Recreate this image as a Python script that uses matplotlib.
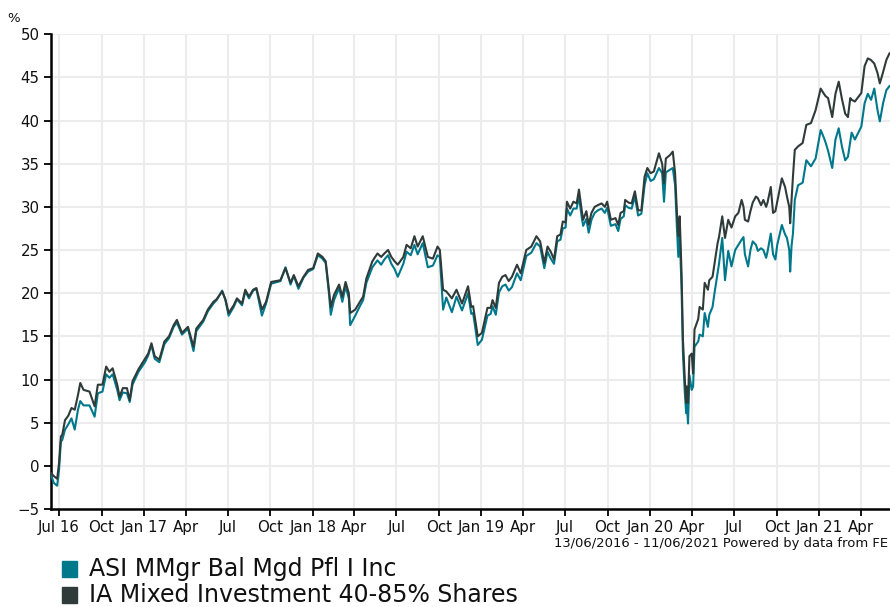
import matplotlib
matplotlib.use("Agg")
import matplotlib.pyplot as plt
import matplotlib.dates as mdates
import pandas as pd

dates = [
    "2016-06-13","2016-06-20","2016-06-27","2016-07-01","2016-07-05","2016-07-08","2016-07-14","2016-07-21",
    "2016-07-28","2016-08-04","2016-08-11","2016-08-16","2016-08-23","2016-09-05","2016-09-16","2016-09-23",
    "2016-10-03","2016-10-11","2016-10-18","2016-10-25","2016-11-04","2016-11-09","2016-11-16","2016-11-25",
    "2016-12-01","2016-12-07","2016-12-20","2017-01-03","2017-01-10","2017-01-17","2017-01-24","2017-02-03",
    "2017-02-14","2017-02-24","2017-03-06","2017-03-13","2017-03-24","2017-04-06","2017-04-18","2017-04-24",
    "2017-05-09","2017-05-19","2017-05-31","2017-06-07","2017-06-19","2017-06-26","2017-07-03","2017-07-14",
    "2017-07-21","2017-08-01","2017-08-08","2017-08-16","2017-08-25","2017-09-01","2017-09-13","2017-09-22",
    "2017-10-03","2017-10-23","2017-11-03","2017-11-14","2017-11-21","2017-12-01","2017-12-12","2017-12-22",
    "2018-01-02","2018-01-12","2018-01-22","2018-01-29","2018-02-05","2018-02-09","2018-02-16","2018-02-27",
    "2018-03-06","2018-03-13","2018-03-20","2018-03-23","2018-04-03","2018-04-13","2018-04-20","2018-04-27",
    "2018-05-10","2018-05-21","2018-05-29","2018-06-05","2018-06-13","2018-06-20","2018-06-27","2018-07-04",
    "2018-07-16","2018-07-23","2018-08-01","2018-08-09","2018-08-16","2018-08-27","2018-09-07","2018-09-18",
    "2018-09-28","2018-10-03","2018-10-10","2018-10-17","2018-10-29","2018-11-08","2018-11-20","2018-12-03",
    "2018-12-10","2018-12-14","2018-12-24","2019-01-02","2019-01-14","2019-01-21","2019-01-25","2019-02-01",
    "2019-02-08","2019-02-15","2019-02-22","2019-03-01","2019-03-08","2019-03-19","2019-03-27","2019-04-08",
    "2019-04-19","2019-04-30","2019-05-08","2019-05-17","2019-05-24","2019-05-31","2019-06-07","2019-06-14",
    "2019-06-21","2019-06-26","2019-07-02","2019-07-05","2019-07-12","2019-07-19","2019-07-26","2019-07-31",
    "2019-08-06","2019-08-09","2019-08-16","2019-08-21","2019-08-27","2019-09-03","2019-09-10","2019-09-18",
    "2019-09-25","2019-09-30","2019-10-08","2019-10-18","2019-10-24","2019-10-29","2019-11-05","2019-11-08",
    "2019-11-15","2019-11-22","2019-11-29","2019-12-06","2019-12-13","2019-12-20","2019-12-26","2020-01-02",
    "2020-01-09","2020-01-20","2020-01-27","2020-01-31","2020-02-04","2020-02-13","2020-02-19","2020-02-24",
    "2020-02-28","2020-03-02","2020-03-05","2020-03-09","2020-03-12","2020-03-16","2020-03-19","2020-03-20",
    "2020-03-23","2020-03-26","2020-03-31","2020-04-03","2020-04-06","2020-04-14","2020-04-17","2020-04-24",
    "2020-04-28","2020-05-05","2020-05-08","2020-05-15","2020-05-19","2020-05-26","2020-05-29","2020-06-05",
    "2020-06-11","2020-06-18","2020-06-25","2020-07-03","2020-07-10","2020-07-17","2020-07-21","2020-07-24",
    "2020-07-31","2020-08-05","2020-08-10","2020-08-17","2020-08-21","2020-08-28","2020-09-02","2020-09-08",
    "2020-09-11","2020-09-18","2020-09-23","2020-09-28","2020-10-02","2020-10-12","2020-10-19","2020-10-23",
    "2020-10-28","2020-10-30","2020-11-02","2020-11-05","2020-11-09","2020-11-16","2020-11-26","2020-12-04",
    "2020-12-14","2020-12-24","2021-01-04","2021-01-11","2021-01-15","2021-01-20","2021-01-29","2021-02-05",
    "2021-02-12","2021-02-19","2021-02-26","2021-03-04","2021-03-09","2021-03-12","2021-03-19","2021-04-02",
    "2021-04-09","2021-04-16","2021-04-23","2021-04-30","2021-05-07","2021-05-12","2021-05-19","2021-05-26",
    "2021-06-02","2021-06-11",
]

ia_mixed = [
    -0.8,-1.2,-1.5,0.3,3.4,3.6,5.3,5.8,
    6.7,6.5,8.2,9.6,8.8,8.6,6.9,9.4,
    9.4,11.5,10.9,11.3,9.4,8.0,9.0,9.0,
    7.6,9.8,11.2,12.4,13.0,14.2,12.7,12.3,
    14.4,15.0,16.3,16.9,15.4,16.1,13.8,15.9,
    16.9,18.1,19.0,19.3,20.2,19.3,17.7,18.6,
    19.4,18.8,20.4,19.6,20.4,20.6,18.1,19.0,
    21.3,21.5,22.9,21.2,22.1,20.8,21.9,22.7,
    22.9,24.6,24.2,23.7,20.4,18.4,19.8,21.0,
    19.6,21.3,20.0,17.7,18.1,19.0,19.6,21.7,
    23.7,24.6,24.2,24.6,25.0,24.2,23.7,23.3,
    24.2,25.6,25.2,26.6,25.4,26.6,24.2,24.0,
    25.4,25.0,20.4,20.2,19.4,20.4,18.8,20.8,
    18.4,18.5,15.0,15.4,18.3,18.3,19.2,18.3,
    21.2,21.9,22.1,21.4,21.9,23.3,22.3,25.0,
    25.4,26.6,26.0,23.5,25.4,24.8,23.9,26.6,
    26.8,28.3,28.2,30.6,29.8,30.6,30.4,32.0,
    29.6,28.5,29.5,27.9,29.3,30.0,30.2,30.4,
    30.0,30.6,28.5,28.7,27.9,29.3,29.5,30.8,
    30.5,30.4,31.8,29.6,29.6,33.5,34.5,33.9,
    34.1,36.2,35.0,32.7,35.6,36.0,36.4,33.9,
    29.3,26.6,28.9,22.3,14.6,10.0,7.3,9.2,
    7.3,12.7,13.0,10.7,15.8,17.0,18.4,18.1,
    21.2,20.4,21.5,21.9,23.3,25.8,26.5,28.9,
    26.4,28.5,27.6,28.9,29.3,30.8,30.0,28.5,
    28.3,29.5,30.5,31.2,31.0,30.2,30.8,30.0,
    30.5,32.3,29.3,29.5,30.6,33.3,32.3,31.2,
    30.0,28.1,30.8,33.5,36.6,37.0,37.4,39.5,
    39.7,41.2,43.7,43.1,42.8,42.6,40.4,43.1,
    44.5,42.5,40.8,40.4,42.6,42.4,42.2,43.2,
    46.3,47.2,47.0,46.6,45.5,44.3,45.6,47.0,
    47.8,47.9,
]

asi_mmgr = [
    -1.0,-2.0,-2.3,-0.5,2.8,3.0,4.2,4.8,
    5.5,4.2,6.5,7.5,7.0,7.0,5.7,8.4,
    8.6,10.6,10.2,10.6,8.8,7.6,8.5,8.4,
    7.4,9.4,10.9,12.0,12.8,14.0,12.4,12.0,
    14.1,14.8,16.1,16.6,15.2,15.9,13.3,15.6,
    16.7,17.9,18.8,19.2,20.3,19.2,17.4,18.4,
    19.3,18.6,20.2,19.4,20.3,20.5,17.4,18.8,
    21.1,21.4,23.0,21.0,22.0,20.5,21.8,22.5,
    22.8,24.4,24.0,23.5,20.0,17.5,19.2,20.6,
    19.0,20.8,19.4,16.3,17.4,18.5,19.2,21.2,
    23.0,23.8,23.3,23.9,24.4,23.4,22.8,21.9,
    23.4,24.8,24.4,25.6,24.5,25.8,23.0,23.2,
    24.4,24.2,18.1,19.5,17.8,19.6,18.0,20.0,
    17.6,17.7,14.0,14.6,17.4,17.6,18.5,17.5,
    20.1,20.8,21.0,20.3,20.7,22.3,21.5,24.3,
    24.7,25.8,25.4,22.9,24.8,24.0,23.4,26.0,
    26.2,27.5,27.6,29.8,29.0,29.8,29.8,31.2,
    28.8,27.8,28.6,27.0,28.5,29.3,29.6,29.8,
    29.3,29.9,27.8,28.0,27.2,28.6,28.9,30.2,
    29.9,29.8,31.2,29.0,29.2,32.5,33.9,33.0,
    33.2,34.5,33.9,30.6,34.0,34.3,34.5,32.5,
    27.5,24.2,26.8,20.5,13.0,8.5,6.1,7.5,
    4.9,10.5,8.8,9.2,13.8,14.4,15.2,15.0,
    17.7,16.1,17.5,18.4,19.9,22.3,23.4,26.4,
    21.5,24.9,23.1,25.0,25.6,26.2,26.5,24.5,
    23.1,25.0,26.0,25.6,24.9,25.2,25.0,24.1,
    24.8,26.9,24.5,23.9,25.6,27.9,26.8,26.4,
    25.0,22.5,25.5,26.9,30.8,32.5,32.8,35.4,
    34.7,35.6,38.9,38.0,37.4,36.5,34.5,37.8,
    39.1,37.0,35.4,35.8,37.6,38.6,37.8,39.3,
    42.0,43.1,42.4,43.7,41.2,39.9,42.0,43.5,
    44.0,44.2,
]

series_names = ["ASI MMgr Bal Mgd Pfl I Inc", "IA Mixed Investment 40-85% Shares"]
series_colors = ["#00788c", "#2f3b39"]

tick_dates = pd.date_range("2016-07-01", "2021-04-01", freq="QS-JAN")
tick_labels = ["Jul 16","Oct","Jan 17","Apr","Jul","Oct","Jan 18","Apr","Jul","Oct",
               "Jan 19","Apr","Jul","Oct","Jan 20","Apr","Jul","Oct","Jan 21","Apr"]
y_ticks = list(range(-5, 51, 5))

x = pd.to_datetime(dates)

fig = plt.figure(figsize=(8.9, 6.07), dpi=100)
ax = fig.add_axes([50.7/890, 98/607, 843/890, 474.8/607])

ax.plot(x, asi_mmgr, color=series_colors[0], lw=1.5, zorder=3)
ax.plot(x, ia_mixed, color=series_colors[1], lw=1.5, zorder=4)

ax.set_xlim(pd.Timestamp("2016-06-13"), pd.Timestamp("2021-06-11"))
ax.set_ylim(-5, 50)
ax.set_xticks(tick_dates)
ax.set_xticklabels(tick_labels)
ax.set_yticks(y_ticks)
ax.grid(True, color="#ececec", lw=1.5, zorder=0)
ax.set_axisbelow(True)
for s in ["top", "right"]:
    ax.spines[s].set_visible(False)
for s in ["left", "bottom"]:
    ax.spines[s].set_color("black")
    ax.spines[s].set_linewidth(1.8)
ax.tick_params(axis="both", direction="out", length=5, width=1.3, color="black",
               labelsize=10.8, labelcolor="#111111", pad=3)
ax.tick_params(axis="x", labelsize=10.8, pad=3)

fig.text(14/890, 1 - 18/607, "%", fontsize=9.5, ha="center", va="center", color="#111111")
fig.text(888/890, 1 - 543/607, "13/06/2016 - 11/06/2021 Powered by data from FE",
         fontsize=9.45, ha="right", va="center", color="#111111")

for i, (name, col) in enumerate(zip(series_names, series_colors)):
    yc = 569 + i * 26
    fig.patches.append(plt.Rectangle((62/890, 1 - (yc + 8)/607), 15/890, 16/607,
                                     transform=fig.transFigure, color=col, figure=fig))
    fig.text(89/890, 1 - yc/607, name, fontsize=17.0, ha="left", va="center", color="#111111")

fig.savefig("out.png", dpi=100)
